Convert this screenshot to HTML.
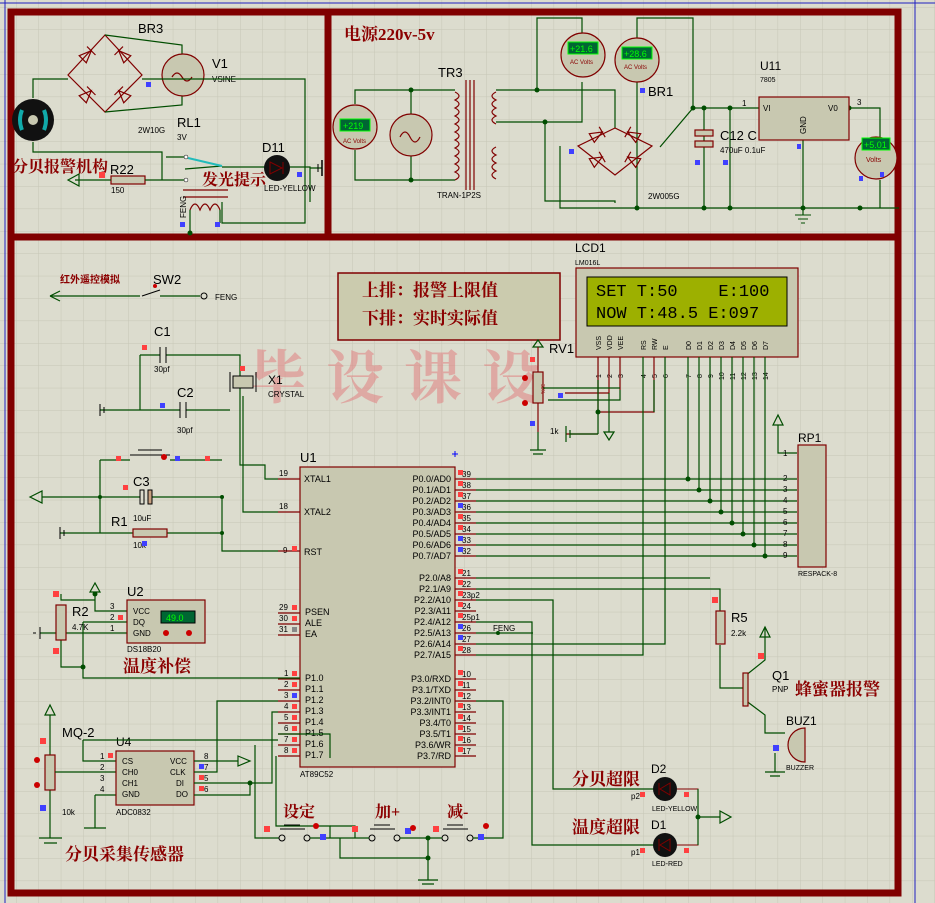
<!DOCTYPE html>
<html><head><meta charset="utf-8"><style>
html,body{margin:0;padding:0;background:#dcdcce;}
svg{display:block}
text{font-family:"Liberation Sans","Noto Sans CJK SC",sans-serif;}
.l{font-size:11px;fill:#000}
.s{font-size:8px;fill:#000}
.p{font-size:9px;fill:#000}
.cn{font-family:"Liberation Serif","Noto Serif CJK SC",serif;font-weight:bold;fill:#8b0000;font-size:16px}
.w{stroke:#004d00;stroke-width:1.2;fill:none}
.r{stroke:#800000;stroke-width:1.2;fill:none}
.c{stroke:#800000;stroke-width:1.2;fill:#c8c8b0}
.b{stroke:#800000;stroke-width:7;fill:none}
.d{stroke:#800000;stroke-width:1.2;fill:none}
</style></head><body>
<svg width="935" height="903" viewBox="0 0 935 903" xmlns="http://www.w3.org/2000/svg">
<defs>
<pattern id="g" x="16" y="7" width="22.4" height="22.4" patternUnits="userSpaceOnUse">
<path d="M0 0V22.4M0 0H22.4" stroke="#c6c6b6" stroke-width="1"/></pattern>
<g id="dio"><path d="M-6 -5 L6 0 L-6 5 Z M6 -6 V6" class="d"/></g>
</defs>
<rect width="935" height="903" fill="#dcdcce"/>
<rect width="935" height="903" fill="url(#g)"/>
<line x1="915" y1="0" x2="915" y2="903" stroke="#2020c0" stroke-width="1"/>
<line x1="5" y1="0" x2="5" y2="903" stroke="#2020c0" stroke-width="1"/>
<line x1="0" y1="3" x2="935" y2="3" stroke="#2020c0" stroke-width="1"/>
<!-- borders -->
<rect x="11" y="12" width="887" height="881" class="b"/>
<line x1="328" y1="12" x2="328" y2="237" class="b"/>
<line x1="11" y1="237" x2="898" y2="237" class="b"/>

<!-- watermark -->
<text x="248" y="398" style="font-family:'Noto Serif CJK SC',serif;font-size:58px;fill:#e08080;opacity:.55;letter-spacing:20px;font-weight:bold">毕设课设</text>

<!-- ===== TOP LEFT ===== -->
<text x="138" y="33" class="l" style="font-size:13px">BR3</text>
<path d="M105 35 L142 75 L105 112 L68 75 Z" class="r"/>
<use href="#dio" transform="translate(87 55) rotate(-45)"/>
<use href="#dio" transform="translate(123 55) rotate(-135)"/>
<use href="#dio" transform="translate(87 95) rotate(-45)"/>
<use href="#dio" transform="translate(123 95) rotate(-135)"/>
<path d="M105 35 L182 45 L182 56 M105 112 L182 105 L182 95" class="w"/>
<circle cx="183" cy="75" r="21" class="c"/>
<path d="M172 77 q5 -8 10 0 q5 8 10 0" class="r"/>
<text x="212" y="68" class="l" style="font-size:13px">V1</text>
<text x="212" y="82" class="s">VSINE</text>
<text x="177" y="127" class="l" style="font-size:13px">RL1</text>
<text x="177" y="140" class="s">3V</text>
<text x="138" y="133" class="s">2W10G</text>
<path d="M33 98 V79 H68 M142 79 H305 V223 H222 V202" class="w"/>
<circle cx="33" cy="120" r="21" fill="#111"/>
<circle cx="33" cy="120" r="5" fill="#c8c8b0"/>
<path d="M22 110 q-4 10 0 20 M44 110 q4 10 0 20" stroke="#1aa" stroke-width="4" fill="none"/>
<path d="M33 142 V152 H162 V180 M162 180 H185" class="w"/>
<text x="12" y="172" class="cn">分贝报警机构</text>
<text x="110" y="174" class="l" style="font-size:13px">R22</text>
<rect x="111" y="176" width="34" height="8" class="c"/>
<path d="M75 180 H111 M145 180 H162" class="w"/>
<path d="M68 180 L79 174 L79 186 Z" class="w"/>
<text x="111" y="193" class="s">150</text>
<path d="M166 157 H185 M185 169 L222 166" class="w"/>
<line x1="188" y1="158" x2="222" y2="166" stroke="#2bb" stroke-width="2"/>
<circle cx="186" cy="157" r="2" fill="#fff" stroke="#000" stroke-width=".5"/>
<circle cx="186" cy="180" r="2" fill="#fff" stroke="#000" stroke-width=".5"/>
<path d="M222 167 H310 V202 M310 168 H322" class="w"/>
<text x="262" y="152" class="l" style="font-size:13px">D11</text>
<circle cx="277" cy="168" r="13" fill="#111"/>
<path d="M270 162 L282 168 L270 174 Z M283 162 V174" stroke="#800000" fill="none"/>
<text x="264" y="191" class="s">LED-YELLOW</text>
<text x="202" y="185" class="cn">发光提示</text>
<path d="M183 190 H228 M183 197 H228" class="r"/>
<path d="M190 210 q5 -12 10 0 q5 -12 10 0 q5 -12 10 0" class="r"/>
<path d="M190 210 V233 M220 210 V223" class="w"/>
<text x="186" y="218" class="s" transform="rotate(-90 186 218)">FENG</text>
<circle cx="190" cy="233" r="2.5" fill="#004d00"/>
<line x1="322" y1="160" x2="322" y2="176" stroke="#000" stroke-width="1.5"/>
<line x1="318" y1="164" x2="318" y2="172" stroke="#000" stroke-width="1"/>
<rect x="146" y="82" width="5" height="5" fill="#4040ff"/><rect x="297" y="172" width="5" height="5" fill="#4040ff"/>
<rect x="99" y="172" width="6" height="6" fill="#ff4040"/><rect x="180" y="222" width="5" height="5" fill="#4040ff"/><rect x="215" y="222" width="5" height="5" fill="#4040ff"/>

<!-- ===== TOP RIGHT power ===== -->
<text x="344" y="40" class="cn" style="font-size:17px">电源220v-5v</text>
<path d="M355 104 V90 H411 H455 M355 150 V180 H411 H455 M411 90 V114 M411 156 V180" class="w"/>
<circle cx="411" cy="90" r="2.5" fill="#004d00"/><circle cx="411" cy="180" r="2.5" fill="#004d00"/>
<circle cx="355" cy="127" r="22" class="c"/>
<rect x="340" y="119" width="30" height="12" fill="#063" stroke="#0f0"/><text x="343" y="129" style="font-size:9px;fill:#0f0">+219</text>
<text x="343" y="143" style="font-size:6px;fill:#800">AC Volts</text>
<circle cx="411" cy="135" r="21" class="c"/><path d="M400 137 q5 -10 10 0 q5 10 10 0" class="r"/>
<text x="438" y="77" class="l" style="font-size:13px">TR3</text>
<path d="M455 92 q8 4 0 8 q8 4 0 8 q8 4 0 8 q8 4 0 8 q8 4 0 8 q8 4 0 8 q8 4 0 8 q8 4 0 8 q8 4 0 8 q8 4 0 8 q8 4 0 8" class="r"/>
<path d="M466 80 V190 M470 80 V190 M474 80 V190" class="r"/>
<path d="M496 92 q-8 4 0 8 q-8 4 0 8 q-8 4 0 8 q-8 4 0 8 M496 147 q-8 4 0 8 q-8 4 0 8 q-8 4 0 8 q-8 4 0 8" class="r"/>
<text x="437" y="198" class="s">TRAN-1P2S</text>
<path d="M496 90 H615 V128 M496 122 H582 V82 M537 90 V18 H582 V35 M545 122 V201 H615 V203 M560 146 V208 H899 M637 45 V18 H693 V108 L660 147 M637 82 V208 M693 108 H759 M704 108 V208 M730 108 V208 M849 108 H880 V143 M880 180 V208 M803 140 V215" class="w"/>
<circle cx="537" cy="90" r="2.5" fill="#004d00"/><circle cx="545" cy="122" r="2.5" fill="#004d00"/>
<circle cx="693" cy="108" r="2.5" fill="#004d00"/><circle cx="704" cy="108" r="2.5" fill="#004d00"/><circle cx="730" cy="108" r="2.5" fill="#004d00"/><circle cx="849" cy="108" r="2.5" fill="#004d00"/>
<circle cx="637" cy="208" r="2.5" fill="#004d00"/><circle cx="704" cy="208" r="2.5" fill="#004d00"/><circle cx="730" cy="208" r="2.5" fill="#004d00"/><circle cx="803" cy="208" r="2.5" fill="#004d00"/><circle cx="860" cy="208" r="2.5" fill="#004d00"/>
<circle cx="583" cy="55" r="22" class="c"/>
<rect x="568" y="42" width="30" height="12" fill="#063" stroke="#0f0"/><text x="570" y="52" style="font-size:9px;fill:#0f0">+21.6</text>
<text x="570" y="64" style="font-size:6px;fill:#800">AC Volts</text>
<circle cx="637" cy="60" r="22" class="c"/>
<rect x="622" y="47" width="30" height="12" fill="#063" stroke="#0f0"/><text x="624" y="57" style="font-size:9px;fill:#0f0">+28.6</text>
<text x="624" y="69" style="font-size:6px;fill:#800">AC Volts</text>
<text x="648" y="96" class="l" style="font-size:13px">BR1</text>
<path d="M615 128 L652 146 L615 175 L578 146 Z" class="r"/>
<use href="#dio" transform="translate(597 135) rotate(-30)"/>
<use href="#dio" transform="translate(633 135) rotate(-150)"/>
<use href="#dio" transform="translate(597 160) rotate(-30)"/>
<use href="#dio" transform="translate(633 160) rotate(-150)"/>
<text x="648" y="199" class="s">2W005G</text>
<rect x="695" y="130" width="18" height="6" class="c"/><rect x="695" y="141" width="18" height="6" class="c"/>
<text x="720" y="140" class="l" style="font-size:13px">C12 C</text>
<text x="720" y="153" class="s">470uF 0.1uF</text>
<text x="760" y="70" class="l" style="font-size:12px">U11</text>
<text x="760" y="82" style="font-size:7px">7805</text>
<rect x="759" y="97" width="90" height="43" class="c"/>
<text x="763" y="111" class="s">VI</text><text x="828" y="111" class="s">V0</text>
<text x="806" y="134" class="s" transform="rotate(-90 806 134)">GND</text>
<text x="742" y="106" class="s">1</text><text x="857" y="105" class="s">3</text>
<circle cx="876" cy="158" r="21" class="c"/>
<rect x="862" y="138" width="28" height="12" fill="#063" stroke="#0f0"/><text x="864" y="148" style="font-size:9px;fill:#0f0">+5.01</text>
<text x="866" y="162" style="font-size:7px;fill:#800">Volts</text>
<path d="M795 215 H811 M798 219 H808 M801 223 H805" stroke="#004d00"/>
<rect x="569" y="149" width="5" height="5" fill="#4040ff"/><rect x="640" y="88" width="5" height="5" fill="#4040ff"/><rect x="695" y="160" width="5" height="5" fill="#4040ff"/><rect x="723" y="160" width="5" height="5" fill="#4040ff"/><rect x="797" y="144" width="4" height="5" fill="#4040ff"/><rect x="859" y="176" width="4" height="5" fill="#4040ff"/><rect x="880" y="172" width="4" height="5" fill="#4040ff"/>

<!-- ===== BOTTOM ===== -->
<text x="60" y="283" style="font-size:10px;font-weight:bold;fill:#8b0000;font-family:'Noto Sans CJK SC',sans-serif">红外遥控模拟</text>
<path d="M50 296 H140 M160 296 H200" class="w"/>
<path d="M50 296 L60 291 M50 296 L60 301" class="w"/>
<text x="153" y="284" class="l" style="font-size:13px">SW2</text>
<line x1="142" y1="296" x2="160" y2="290" stroke="#000"/>
<circle cx="204" cy="296" r="3" fill="none" stroke="#000"/>
<text x="215" y="300" class="s">FENG</text>
<circle cx="155" cy="286" r="2" fill="#c00"/>

<!-- note box -->
<rect x="338" y="273" width="222" height="67" fill="#cbcbae" stroke="#800000" stroke-width="1.5"/>
<text x="362" y="296" style="font-family:'Noto Serif CJK SC',serif;font-size:17px;fill:#8b0000;font-weight:bold">上排：报警上限值</text>
<text x="362" y="324" style="font-family:'Noto Serif CJK SC',serif;font-size:17px;fill:#8b0000;font-weight:bold">下排：实时实际值</text>

<!-- LCD -->
<text x="575" y="252" class="l" style="font-size:12px">LCD1</text>
<text x="575" y="265" style="font-size:7px">LM016L</text>
<rect x="576" y="268" width="222" height="89" fill="#c8c8b0" stroke="#800000" stroke-width="1.2"/>
<rect x="587" y="277" width="200" height="49" fill="#9db000" stroke="#000" stroke-width="1"/>
<text x="596" y="296" xml:space="preserve" style="font-family:'Liberation Mono',monospace;font-size:17px;fill:#000;white-space:pre">SET T:50    E:100</text>
<text x="596" y="318" xml:space="preserve" style="font-family:'Liberation Mono',monospace;font-size:17px;fill:#000;white-space:pre">NOW T:48.5 E:097</text>
<g style="font-size:7px" fill="#000">
<text transform="translate(601 350) rotate(-90)">VSS</text><text transform="translate(612 350) rotate(-90)">VDD</text><text transform="translate(623 350) rotate(-90)">VEE</text>
<text transform="translate(646 350) rotate(-90)">RS</text><text transform="translate(657 350) rotate(-90)">RW</text><text transform="translate(668 350) rotate(-90)">E</text>
<text transform="translate(691 350) rotate(-90)">D0</text><text transform="translate(702 350) rotate(-90)">D1</text><text transform="translate(713 350) rotate(-90)">D2</text><text transform="translate(724 350) rotate(-90)">D3</text><text transform="translate(735 350) rotate(-90)">D4</text><text transform="translate(746 350) rotate(-90)">D5</text><text transform="translate(757 350) rotate(-90)">D6</text><text transform="translate(768 350) rotate(-90)">D7</text>
<text transform="translate(601 378) rotate(-90)">1</text><text transform="translate(612 378) rotate(-90)">2</text><text transform="translate(623 378) rotate(-90)">3</text><text transform="translate(646 378) rotate(-90)">4</text><text transform="translate(657 378) rotate(-90)">5</text><text transform="translate(668 378) rotate(-90)">6</text>
<text transform="translate(691 378) rotate(-90)">7</text><text transform="translate(702 378) rotate(-90)">8</text><text transform="translate(713 378) rotate(-90)">9</text><text transform="translate(724 380) rotate(-90)">10</text><text transform="translate(735 380) rotate(-90)">11</text><text transform="translate(746 380) rotate(-90)">12</text><text transform="translate(757 380) rotate(-90)">13</text><text transform="translate(768 380) rotate(-90)">14</text>
</g>
<path d="M598 357 V412 M609 357 V393 H565 M620 357 V390 M598 412 H654 V357 M598 434 H566" class="r"/>
<path d="M598 380 V434 M654 380 V412 M620 390 V400 H548" class="w"/>
<circle cx="598" cy="412" r="2.5" fill="#004d00"/>
<path d="M609 393 V432 M604 432 L614 432 L609 440 Z" class="w"/>
<g class="w">
<path d="M688 357 V479 M699 357 V490 M710 357 V501 M721 357 V512 M732 357 V523 M743 357 V534 M754 357 V545 M765 357 V556"/>
<path d="M643 357 V655 H476 M665 357 V644 H476"/>
<path d="M476 479 H797 M476 490 H797 M476 501 H797 M476 512 H797 M476 523 H797 M476 534 H797 M476 545 H797 M476 556 H797"/>
<path d="M797 453 H778 V425"/>
</g>
<g fill="#004d00"><circle cx="688" cy="479" r="2.5"/><circle cx="699" cy="490" r="2.5"/><circle cx="710" cy="501" r="2.5"/><circle cx="721" cy="512" r="2.5"/><circle cx="732" cy="523" r="2.5"/><circle cx="743" cy="534" r="2.5"/><circle cx="754" cy="545" r="2.5"/><circle cx="765" cy="556" r="2.5"/></g>
<path d="M773 425 L778 415 L783 425 Z" class="w"/>
<text x="798" y="442" class="l" style="font-size:12px">RP1</text>
<rect x="798" y="445" width="28" height="122" class="c"/>
<text x="798" y="576" style="font-size:7px">RESPACK-8</text>
<g class="s"><text x="783" y="456">1</text><text x="783" y="481">2</text><text x="783" y="492">3</text><text x="783" y="503">4</text><text x="783" y="514">5</text><text x="783" y="525">6</text><text x="783" y="536">7</text><text x="783" y="547">8</text><text x="783" y="558">9</text></g>

<!-- RV1 -->
<text x="549" y="353" class="l" style="font-size:13px">RV1</text>
<path d="M538 340 L533 347 L543 347 Z" class="w"/>
<path d="M538 347 V372 M538 403 V432" class="r"/>
<rect x="533" y="372" width="10" height="31" class="c"/>
<text x="541" y="384" style="font-size:5px;fill:#800" transform="rotate(90 541 384)">30%</text>
<path d="M543 388 H620" class="w"/>
<circle cx="525" cy="378" r="3" fill="#c00"/><circle cx="525" cy="403" r="3" fill="#c00"/>
<text x="550" y="434" class="s">1k</text>
<path d="M538 432 V450 M530 450 H546 M533 454 H543" class="w"/>
<path d="M566 426 V442 M570 430 V438 M570 434 H598" class="w"/>
<rect x="530" y="357" width="5" height="5" fill="#ff4040"/><rect x="558" y="393" width="5" height="5" fill="#4040ff"/><rect x="530" y="421" width="5" height="5" fill="#4040ff"/>

<!-- U1 -->
<text x="300" y="462" class="l" style="font-size:13px">U1</text>
<rect x="300" y="467" width="155" height="300" class="c"/>
<text x="300" y="777" class="s">AT89C52</text>
<path d="M455 451 V457 M452 454 H458" stroke="#00f"/>
<g class="p">
<text x="304" y="482">XTAL1</text><text x="304" y="515">XTAL2</text><text x="304" y="555">RST</text>
<text x="305" y="615">PSEN</text><text x="305" y="626">ALE</text><text x="305" y="637">EA</text>
<text x="305" y="681">P1.0</text><text x="305" y="692">P1.1</text><text x="305" y="703">P1.2</text><text x="305" y="714">P1.3</text><text x="305" y="725">P1.4</text><text x="305" y="736">P1.5</text><text x="305" y="747">P1.6</text><text x="305" y="758">P1.7</text>
</g>
<g class="p" text-anchor="end">
<text x="451" y="482">P0.0/AD0</text><text x="451" y="493">P0.1/AD1</text><text x="451" y="504">P0.2/AD2</text><text x="451" y="515">P0.3/AD3</text><text x="451" y="526">P0.4/AD4</text><text x="451" y="537">P0.5/AD5</text><text x="451" y="548">P0.6/AD6</text><text x="451" y="559">P0.7/AD7</text>
<text x="451" y="581">P2.0/A8</text><text x="451" y="592">P2.1/A9</text><text x="451" y="603">P2.2/A10</text><text x="451" y="614">P2.3/A11</text><text x="451" y="625">P2.4/A12</text><text x="451" y="636">P2.5/A13</text><text x="451" y="647">P2.6/A14</text><text x="451" y="658">P2.7/A15</text>
<text x="451" y="682">P3.0/RXD</text><text x="451" y="693">P3.1/TXD</text><text x="451" y="704">P3.2/INT0</text><text x="451" y="715">P3.3/INT1</text><text x="451" y="726">P3.4/T0</text><text x="451" y="737">P3.5/T1</text><text x="451" y="748">P3.6/WR</text><text x="451" y="759">P3.7/RD</text>
</g>
<g class="s">
<text x="462" y="477">39</text><text x="462" y="488">38</text><text x="462" y="499">37</text><text x="462" y="510">36</text><text x="462" y="521">35</text><text x="462" y="532">34</text><text x="462" y="543">33</text><text x="462" y="554">32</text>
<text x="462" y="576">21</text><text x="462" y="587">22</text><text x="462" y="598">23p2</text><text x="462" y="609">24</text><text x="462" y="620">25p1</text><text x="462" y="631">26</text><text x="462" y="642">27</text><text x="462" y="653">28</text>
<text x="462" y="677">10</text><text x="462" y="688">11</text><text x="462" y="699">12</text><text x="462" y="710">13</text><text x="462" y="721">14</text><text x="462" y="732">15</text><text x="462" y="743">16</text><text x="462" y="754">17</text>
<text x="493" y="631">FENG</text>
<text x="279" y="476">19</text><text x="279" y="509">18</text><text x="283" y="553">9</text><text x="279" y="610">29</text><text x="279" y="621">30</text><text x="279" y="632">31</text>
<text x="284" y="676">1</text><text x="284" y="687">2</text><text x="284" y="698">3</text><text x="284" y="709">4</text><text x="284" y="720">5</text><text x="284" y="731">6</text><text x="284" y="742">7</text><text x="284" y="753">8</text>
</g>
<g class="r"><path d="M455 479 H476 M455 490 H476 M455 501 H476 M455 512 H476 M455 523 H476 M455 534 H476 M455 545 H476 M455 556 H476 M455 578 H476 M455 589 H476 M455 600 H476 M455 611 H476 M455 622 H476 M455 633 H476 M455 644 H476 M455 655 H476 M455 679 H476 M455 690 H476 M455 701 H476 M455 712 H476 M455 723 H476 M455 734 H476 M455 745 H476 M455 756 H476"/>
<path d="M278 479 H300 M278 512 H300 M278 551 H300 M278 613 H300 M278 624 H300 M278 635 H300 M278 679 H300 M278 690 H300 M278 701 H300 M278 712 H300 M278 723 H300 M278 734 H300 M278 745 H300 M278 756 H300"/></g>
<g class="w">
<path d="M476 578 H710 M476 589 H720 V611 M720 645 V688 H745"/>
<path d="M476 600 H553 V789 H655 M476 622 H532 V845 H655 M476 633 H533"/>
<path d="M476 701 H503 V838 H490"/>
</g>
<circle cx="498" cy="633" r="2" fill="#004d00"/>
<g fill="#ff4040"><rect x="458" y="470" width="5" height="5"/><rect x="458" y="481" width="5" height="5"/><rect x="458" y="492" width="5" height="5"/><rect x="458" y="514" width="5" height="5"/><rect x="458" y="525" width="5" height="5"/><rect x="458" y="569" width="5" height="5"/><rect x="458" y="580" width="5" height="5"/><rect x="458" y="591" width="5" height="5"/><rect x="458" y="602" width="5" height="5"/><rect x="458" y="613" width="5" height="5"/><rect x="458" y="646" width="5" height="5"/><rect x="458" y="670" width="5" height="5"/><rect x="458" y="681" width="5" height="5"/><rect x="458" y="692" width="5" height="5"/><rect x="458" y="703" width="5" height="5"/><rect x="458" y="714" width="5" height="5"/><rect x="458" y="725" width="5" height="5"/><rect x="458" y="736" width="5" height="5"/><rect x="458" y="747" width="5" height="5"/>
<rect x="292" y="546" width="5" height="5"/><rect x="292" y="605" width="5" height="5"/><rect x="292" y="616" width="5" height="5"/><rect x="292" y="671" width="5" height="5"/><rect x="292" y="682" width="5" height="5"/><rect x="292" y="704" width="5" height="5"/><rect x="292" y="715" width="5" height="5"/><rect x="292" y="726" width="5" height="5"/><rect x="292" y="737" width="5" height="5"/><rect x="292" y="748" width="5" height="5"/></g>
<g fill="#4040ff"><rect x="458" y="503" width="5" height="5"/><rect x="458" y="536" width="5" height="5"/><rect x="458" y="547" width="5" height="5"/><rect x="458" y="624" width="5" height="5"/><rect x="458" y="635" width="5" height="5"/><rect x="292" y="693" width="5" height="5"/></g>
<rect x="292" y="627" width="5" height="5" fill="#888"/>

<!-- crystal / caps -->
<text x="154" y="336" class="l" style="font-size:13px">C1</text>
<path d="M140 355 H160 M166 355 H240 V465 H265 V479 H278 M100 410 H180 M186 410 H230 M243 396 V512 H278 M140 355 V410" class="w"/>
<path d="M160 347 V363 M166 347 V363" stroke="#000"/>
<text x="154" y="372" class="s">30pf</text>
<text x="177" y="397" class="l" style="font-size:13px">C2</text>
<path d="M180 402 V418 M186 402 V418" stroke="#000"/>
<text x="177" y="433" class="s">30pf</text>
<rect x="233" y="376" width="20" height="12" fill="#c8c8b0" stroke="#000"/>
<path d="M230 372 V392 M256 372 V392" stroke="#000"/>
<text x="268" y="384" class="l" style="font-size:12px">X1</text>
<text x="268" y="397" class="s">CRYSTAL</text>
<path d="M100 404 V416 M104 407 V413" stroke="#000"/>
<path d="M30 497 L42 491 L42 503 Z" class="w"/>
<path d="M42 497 H140 M152 497 H222 V551 H278 M100 460 H130 M170 460 H222 M100 460 V533 M60 533 H133 M167 533 H222" class="w"/>
<circle cx="100" cy="497" r="2" fill="#004d00"/><circle cx="222" cy="497" r="2" fill="#004d00"/><circle cx="222" cy="533" r="2" fill="#004d00"/>
<path d="M130 455 H170 M138 450 H162" stroke="#000"/>
<text x="133" y="486" class="l" style="font-size:13px">C3</text>
<rect x="140" y="490" width="4" height="14" fill="none" stroke="#000"/><rect x="148" y="490" width="4" height="14" fill="#c8a080" stroke="#000"/>
<text x="133" y="521" class="s">10uF</text>
<text x="111" y="526" class="l" style="font-size:13px">R1</text>
<rect x="133" y="529" width="34" height="8" class="c"/>
<text x="133" y="548" class="s">10k</text>
<path d="M60 527 V539 M64 530 V536" stroke="#000"/>
<g fill="#ff4040"><rect x="142" y="345" width="5" height="5"/><rect x="116" y="456" width="5" height="5"/><rect x="123" y="485" width="5" height="5"/><rect x="205" y="456" width="5" height="5"/><rect x="240" y="366" width="5" height="5"/></g>
<g fill="#4040ff"><rect x="160" y="403" width="5" height="5"/><rect x="142" y="541" width="5" height="5"/><rect x="175" y="456" width="5" height="5"/></g>
<circle cx="164" cy="457" r="3" fill="#c00"/>

<!-- U2 DS18B20 -->
<path d="M95 583 L90 592 L100 592 Z" class="w"/>
<path d="M95 592 V611 H127 M61 594 V600 H95 M61 640 V667 H83 M83 622 H127 M83 622 V678 H300 M40 633 H127" class="w"/>
<circle cx="95" cy="594" r="2.5" fill="#004d00"/><circle cx="83" cy="667" r="2.5" fill="#004d00"/>
<path d="M40 627 V639 M36 633 H33" stroke="#000"/>
<rect x="56" y="605" width="10" height="35" class="c"/>
<text x="72" y="616" class="l" style="font-size:13px">R2</text>
<text x="72" y="630" class="s">4.7K</text>
<text x="127" y="596" class="l" style="font-size:13px">U2</text>
<rect x="127" y="600" width="78" height="43" class="c"/>
<rect x="161" y="611" width="34" height="12" fill="#063" stroke="#000"/><text x="166" y="621" style="font-size:9px;fill:#0f0">49.0</text>
<text x="133" y="614" class="s">VCC</text><text x="133" y="625" class="s">DQ</text><text x="133" y="636" class="s">GND</text>
<text x="110" y="609" class="s">3</text><text x="110" y="620" class="s">2</text><text x="110" y="631" class="s">1</text>
<circle cx="166" cy="633" r="3" fill="#c00"/><circle cx="189" cy="633" r="3" fill="#c00"/>
<text x="127" y="652" class="s">DS18B20</text>
<text x="123" y="672" class="cn" style="font-size:17px">温度补偿</text>
<rect x="53" y="591" width="6" height="6" fill="#ff4040"/><rect x="53" y="648" width="6" height="6" fill="#ff4040"/><rect x="118" y="615" width="5" height="5" fill="#ff4040"/>

<!-- U4 ADC -->
<text x="62" y="737" class="l" style="font-size:13px">MQ-2</text>
<path d="M50 705 L45 715 L55 715 Z" class="w"/>
<path d="M50 715 V755 M50 790 V838 M39 838 H62 M44 843 H57" class="w"/>
<rect x="45" y="755" width="10" height="35" class="c"/>
<path d="M55 772 H116 M83 740 V761 H116 M95 795 H116 M95 795 V828 M84 828 H106" class="w"/>
<circle cx="37" cy="760" r="3" fill="#c00"/><circle cx="37" cy="785" r="3" fill="#c00"/>
<text x="62" y="815" class="s">10k</text>
<text x="116" y="746" class="l" style="font-size:12px">U4</text>
<rect x="116" y="751" width="78" height="54" class="c"/>
<g class="s"><text x="122" y="764">CS</text><text x="122" y="775">CH0</text><text x="122" y="786">CH1</text><text x="122" y="797">GND</text>
<text x="170" y="764">VCC</text><text x="170" y="775">CLK</text><text x="176" y="786">DI</text><text x="176" y="797">DO</text>
<text x="100" y="759">1</text><text x="100" y="770">2</text><text x="100" y="781">3</text><text x="100" y="792">4</text>
<text x="204" y="759">8</text><text x="204" y="770">7</text><text x="204" y="781">5</text><text x="204" y="792">6</text></g>
<text x="116" y="815" class="s">ADC0832</text>
<path d="M194 761 H238 M194 772 H217 V701 H278 M194 783 H250 H272 V712 H278 M194 795 H250 V783 M255 745 V838 H280 M276 756 V826 H330 V838 M278 734 H330 V758 H330 M83 740 H278" class="w"/>
<path d="M238 756 L250 761 L238 766 Z" class="w"/>
<circle cx="250" cy="783" r="2.5" fill="#004d00"/>
<text x="65" y="860" class="cn" style="font-size:17px">分贝采集传感器</text>
<g fill="#ff4040"><rect x="40" y="738" width="6" height="6"/><rect x="108" y="753" width="5" height="5"/><rect x="199" y="775" width="5" height="5"/><rect x="199" y="786" width="5" height="5"/></g>
<g fill="#4040ff"><rect x="40" y="805" width="6" height="6"/><rect x="199" y="764" width="5" height="5"/></g>

<!-- buttons -->
<text x="283" y="817" class="cn" style="font-size:16px">设定</text>
<text x="375" y="817" class="cn" style="font-size:16px">加+</text>
<text x="447" y="817" class="cn" style="font-size:16px">减-</text>
<path d="M280 829 H305 M284 825 H300 M370 829 H395 M374 825 H390 M443 829 H468 M447 825 H463" stroke="#000"/>
<circle cx="282" cy="838" r="3" fill="#dcdcce" stroke="#000"/><circle cx="307" cy="838" r="3" fill="#dcdcce" stroke="#000"/>
<circle cx="372" cy="838" r="3" fill="#dcdcce" stroke="#000"/><circle cx="397" cy="838" r="3" fill="#dcdcce" stroke="#000"/>
<circle cx="445" cy="838" r="3" fill="#dcdcce" stroke="#000"/><circle cx="470" cy="838" r="3" fill="#dcdcce" stroke="#000"/>
<path d="M310 838 H369 M400 838 H442 M473 838 H490 M340 838 V858 H428 V880 M428 838 V858 M418 880 H438 M422 884 H434 M330 826 H355 V838" class="w"/>
<circle cx="428" cy="838" r="2.5" fill="#004d00"/><circle cx="428" cy="858" r="2.5" fill="#004d00"/>
<g fill="#ff4040"><rect x="264" y="826" width="6" height="6"/><rect x="352" y="826" width="6" height="6"/><rect x="433" y="826" width="6" height="6"/></g>
<g fill="#4040ff"><rect x="320" y="834" width="6" height="6"/><rect x="405" y="828" width="6" height="6"/><rect x="478" y="834" width="6" height="6"/></g>
<circle cx="316" cy="826" r="3" fill="#c00"/><circle cx="413" cy="828" r="3" fill="#c00"/><circle cx="486" cy="826" r="3" fill="#c00"/>

<!-- R5/Q1/buzzer -->
<text x="731" y="622" class="l" style="font-size:13px">R5</text>
<text x="731" y="636" class="s">2.2k</text>
<rect x="716" y="611" width="9" height="33" class="c"/>
<path d="M745 676 L765 660 V627 M745 700 L765 715 V733 H785 M775 753 V772 H768 M765 772 H785 M770 776 H780" class="w"/>
<path d="M765 627 L760 637 L770 637 Z" class="w"/>
<rect x="743" y="673" width="5" height="33" class="c"/>
<text x="772" y="680" class="l" style="font-size:13px">Q1</text>
<text x="772" y="692" class="s">PNP</text>
<text x="795" y="695" class="cn" style="font-size:17px">蜂蜜器报警</text>
<text x="786" y="725" class="l" style="font-size:12px">BUZ1</text>
<path d="M805 728 a12 12 0 0 0 0 34 Z" class="c"/>
<text x="786" y="770" style="font-size:7px">BUZZER</text>
<rect x="712" y="597" width="6" height="6" fill="#ff4040"/><rect x="758" y="653" width="6" height="6" fill="#ff4040"/><rect x="773" y="745" width="6" height="6" fill="#4040ff"/>

<!-- LEDs -->
<text x="572" y="785" class="cn" style="font-size:17px">分贝超限</text>
<text x="572" y="833" class="cn" style="font-size:17px">温度超限</text>
<text x="651" y="773" class="l" style="font-size:12px">D2</text>
<text x="651" y="829" class="l" style="font-size:12px">D1</text>
<circle cx="665" cy="789" r="12" fill="#111"/><circle cx="665" cy="845" r="12" fill="#111"/>
<path d="M670 783 L660 789 L670 795 Z M659 783 V795 M670 839 L660 845 L670 851 Z M659 839 V851 M677 789 H698 V845 H677 M698 817 H720" stroke="#800000" fill="none"/>
<path d="M698 789 V845 M698 817 H720" class="w"/>
<circle cx="698" cy="817" r="2.5" fill="#004d00"/>
<path d="M720 811 L731 817 L720 823 Z" class="w"/>
<text x="631" y="799" class="s">p2</text><text x="631" y="855" class="s">p1</text>
<text x="652" y="811" style="font-size:7px">LED-YELLOW</text>
<text x="652" y="866" style="font-size:7px">LED-RED</text>
<g fill="#ff4040"><rect x="640" y="792" width="5" height="5"/><rect x="684" y="792" width="5" height="5"/><rect x="640" y="848" width="5" height="5"/><rect x="684" y="848" width="5" height="5"/></g>
</svg>
</body></html>
